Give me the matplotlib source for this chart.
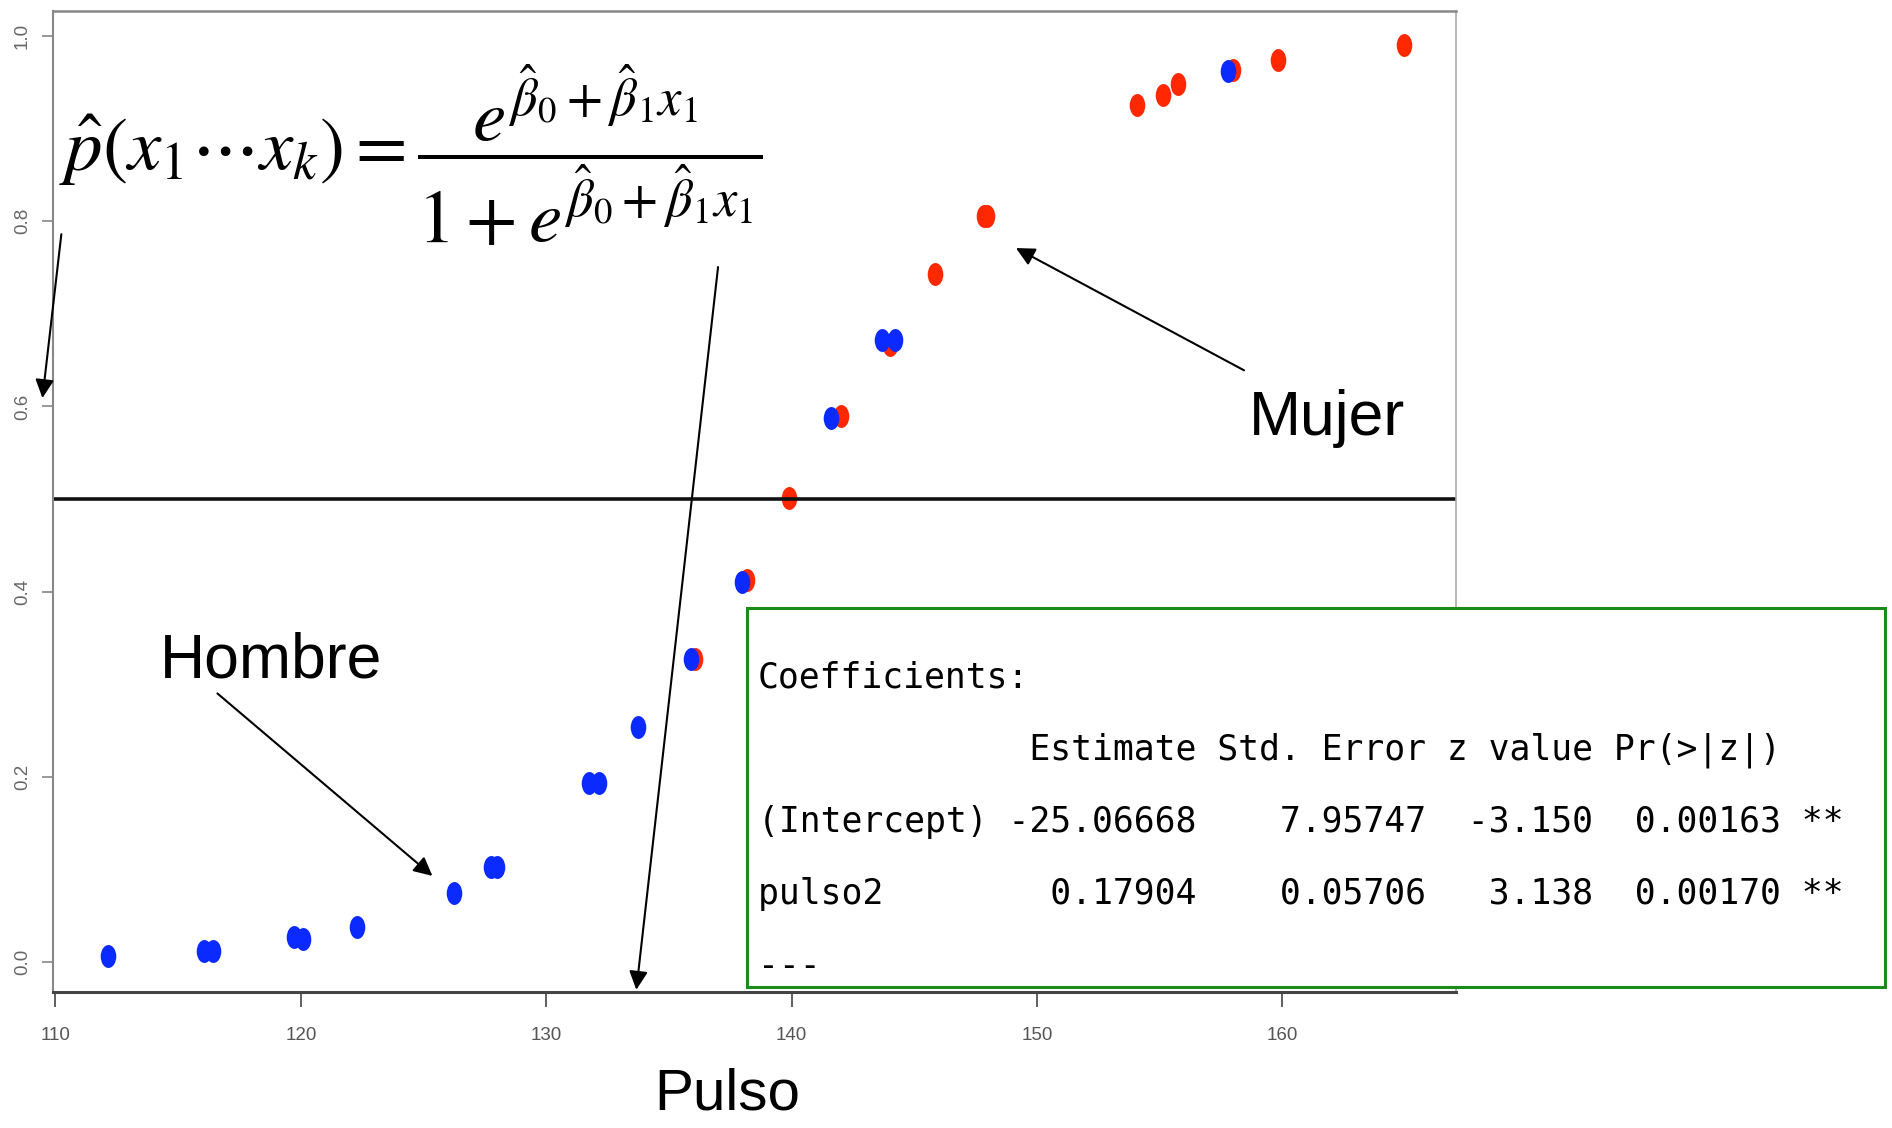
import matplotlib
matplotlib.use("Agg")
import matplotlib.pyplot as plt
from matplotlib.markers import MarkerStyle
from matplotlib.patches import Rectangle
from matplotlib.transforms import Affine2D

plt.rcParams.update({
    "font.family": ["Liberation Sans", "DejaVu Sans"],
    "mathtext.fontset": "stix",
})

# fitted probabilities
pulso_hombre = [112.13, 116.07, 116.41, 119.74, 120.07, 122.29, 126.22, 127.76, 127.98,
                131.73, 132.13, 133.73, 135.89, 137.97, 141.6, 143.67, 144.22, 157.77]
prob_hombre = [0.007, 0.012, 0.012, 0.027, 0.025, 0.038, 0.075, 0.103, 0.103,
               0.193, 0.193, 0.254, 0.327, 0.410, 0.588, 0.672, 0.672, 0.962]

pulso_mujer = [136.07, 138.17, 139.9, 142.0, 144.01, 145.82, 147.82, 147.95,
               154.07, 155.15, 155.76, 157.97, 159.8, 164.97]
prob_mujer = [0.327, 0.412, 0.501, 0.590, 0.666, 0.743, 0.806, 0.806,
              0.925, 0.936, 0.948, 0.963, 0.974, 0.990]

x_ticks = [110, 120, 130, 140, 150, 160]
y_ticks = [0.0, 0.2, 0.4, 0.6, 0.8, 1.0]

coef_lines = [
    "Coefficients:",
    "             Estimate Std. Error z value Pr(>|z|)",
    "(Intercept) -25.06668    7.95747  -3.150  0.00163 **",
    "pulso2        0.17904    0.05706   3.138  0.00170 **",
    "---",
]

W, H = 1892, 1128
fig = plt.figure(figsize=(W / 100, H / 100), dpi=100)
ax = fig.add_axes([53 / W, 1 - 992 / H, (1456 - 53) / W, (992 - 11) / H])

# the source image was stretched vertically, so the dots are ellipses
dot = MarkerStyle("o", transform=Affine2D().scale(0.68, 1.0))
ax.plot(pulso_mujer, prob_mujer, ls="none", marker=dot, ms=16.5, mew=0, color="#ff2800")
ax.plot(pulso_hombre, prob_hombre, ls="none", marker=dot, ms=16.5, mew=0, color="#0a2aff")
ax.axhline(0.5, color="#111111", lw=2.6)

ax.set_xlim(109.9, 167.07)
ax.set_ylim(-0.0324, 1.027)
ax.set_xticks(x_ticks)
ax.set_xticklabels([str(v) for v in x_ticks])
ax.set_yticks(y_ticks)
ax.set_yticklabels([f"{v:.1f}" for v in y_ticks], rotation=90, va="center")
ax.tick_params(axis="x", length=11, width=1.2, color="#444444", pad=14,
               labelsize=13.5, labelcolor="#555555")
ax.tick_params(axis="y", length=8, width=1.2, color="#888888", pad=8,
               labelsize=13.5, labelcolor="#666666")

ax.spines["left"].set_color("#888888")
ax.spines["left"].set_linewidth(1.5)
ax.spines["top"].set_color("#888888")
ax.spines["top"].set_linewidth(1.8)
ax.spines["right"].set_color("#aaaaaa")
ax.spines["right"].set_linewidth(1.2)
ax.spines["bottom"].set_color("#444444")
ax.spines["bottom"].set_linewidth(2.2)

arrow = dict(arrowstyle="-|>", color="black", lw=1.5, mutation_scale=28,
             shrinkA=0, shrinkB=0)
# Hombre
ax.annotate("", xy=(125.36, 0.093), xytext=(116.6, 0.290), arrowprops=arrow,
            annotation_clip=False)
# Mujer
ax.annotate("", xy=(149.14, 0.771), xytext=(158.43, 0.639), arrowprops=arrow,
            annotation_clip=False)
# formula -> y axis and x axis
ax.annotate("", xy=(109.47, 0.609), xytext=(110.24, 0.786), arrowprops=arrow,
            annotation_clip=False)
ax.annotate("", xy=(133.67, -0.030), xytext=(137.0, 0.7505), arrowprops=arrow,
            annotation_clip=False)

fig.text(160 / W, 1 - 677 / H, "Hombre", fontsize=45, va="baseline")
fig.text(1249 / W, 1 - 435 / H, "Mujer", fontsize=45, va="baseline")
fig.text(727 / W, 1 - 1110 / H, "Pulso", fontsize=42, ha="center", va="baseline")

fig.text(59 / W, 1 - 155 / H,
         r"$\hat{p}(x_1\cdots x_k)=\dfrac{e^{\hat{\beta}_0+\hat{\beta}_1 x_1}}"
         r"{1+e^{\hat{\beta}_0+\hat{\beta}_1 x_1}}$",
         fontsize=54, ha="left", va="center")

# R summary box
box = Rectangle((747 / W, 1 - 987 / H), (1885 - 747) / W, (987 - 608) / H,
                transform=fig.transFigure, facecolor="white", edgecolor="#1a8c1a",
                lw=2.2, zorder=5)
fig.add_artist(box)
for i, line in enumerate(coef_lines):
    fig.text(758 / W, 1 - (688 + 72 * i) / H, line, family="DejaVu Sans Mono",
             fontsize=25, va="baseline", zorder=6)

fig.savefig("out.png", dpi=100)
